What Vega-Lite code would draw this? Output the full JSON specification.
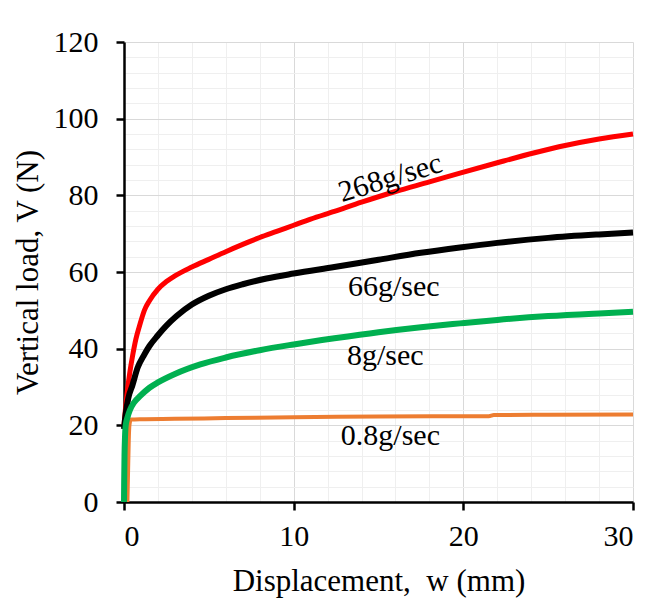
{
  "$schema": "https://vega.github.io/schema/vega-lite/v6.json",
  "autosize": "none",
  "width": 509,
  "height": 460,
  "padding": {"left": 124, "top": 42, "right": 35, "bottom": 104},
  "background": "white",
  "config": {
    "view": {"stroke": null},
    "font": "Liberation Serif"
  },
  "datasets": {
    "curves": [
      {"rate": "268g/sec", "w": 0, "V": 20},
      {"rate": "268g/sec", "w": 0.1, "V": 25},
      {"rate": "268g/sec", "w": 0.2, "V": 29},
      {"rate": "268g/sec", "w": 0.35, "V": 34},
      {"rate": "268g/sec", "w": 0.5, "V": 38},
      {"rate": "268g/sec", "w": 0.7, "V": 42.5},
      {"rate": "268g/sec", "w": 0.95, "V": 46.5},
      {"rate": "268g/sec", "w": 1.2, "V": 50},
      {"rate": "268g/sec", "w": 1.5, "V": 52.5},
      {"rate": "268g/sec", "w": 2, "V": 55.5},
      {"rate": "268g/sec", "w": 2.5, "V": 57.5},
      {"rate": "268g/sec", "w": 3, "V": 59},
      {"rate": "268g/sec", "w": 4, "V": 61.3},
      {"rate": "268g/sec", "w": 5, "V": 63.3},
      {"rate": "268g/sec", "w": 6, "V": 65.3},
      {"rate": "268g/sec", "w": 7, "V": 67.2},
      {"rate": "268g/sec", "w": 8, "V": 69},
      {"rate": "268g/sec", "w": 9, "V": 70.6},
      {"rate": "268g/sec", "w": 10, "V": 72.2},
      {"rate": "268g/sec", "w": 11, "V": 73.8},
      {"rate": "268g/sec", "w": 12.4, "V": 75.8},
      {"rate": "268g/sec", "w": 14, "V": 78.2},
      {"rate": "268g/sec", "w": 16, "V": 81},
      {"rate": "268g/sec", "w": 18, "V": 83.5},
      {"rate": "268g/sec", "w": 19.8, "V": 85.8},
      {"rate": "268g/sec", "w": 22, "V": 88.5},
      {"rate": "268g/sec", "w": 24.2, "V": 91.1},
      {"rate": "268g/sec", "w": 26, "V": 93},
      {"rate": "268g/sec", "w": 28, "V": 94.7},
      {"rate": "268g/sec", "w": 30, "V": 96},
      {"rate": "66g/sec", "w": 0, "V": 19},
      {"rate": "66g/sec", "w": 0.1, "V": 23},
      {"rate": "66g/sec", "w": 0.25, "V": 27},
      {"rate": "66g/sec", "w": 0.5, "V": 30.5},
      {"rate": "66g/sec", "w": 0.8, "V": 35},
      {"rate": "66g/sec", "w": 1.2, "V": 38.5},
      {"rate": "66g/sec", "w": 1.5, "V": 40.7},
      {"rate": "66g/sec", "w": 2, "V": 43.5},
      {"rate": "66g/sec", "w": 2.5, "V": 46},
      {"rate": "66g/sec", "w": 3.1, "V": 48.5},
      {"rate": "66g/sec", "w": 4, "V": 51.5},
      {"rate": "66g/sec", "w": 5, "V": 53.8},
      {"rate": "66g/sec", "w": 6, "V": 55.5},
      {"rate": "66g/sec", "w": 7, "V": 56.8},
      {"rate": "66g/sec", "w": 8.4, "V": 58.3},
      {"rate": "66g/sec", "w": 10, "V": 59.6},
      {"rate": "66g/sec", "w": 12.4, "V": 61.3},
      {"rate": "66g/sec", "w": 15, "V": 63.2},
      {"rate": "66g/sec", "w": 17.5, "V": 65},
      {"rate": "66g/sec", "w": 19.8, "V": 66.4},
      {"rate": "66g/sec", "w": 22, "V": 67.6},
      {"rate": "66g/sec", "w": 25, "V": 68.9},
      {"rate": "66g/sec", "w": 28, "V": 69.8},
      {"rate": "66g/sec", "w": 30, "V": 70.3},
      {"rate": "8g/sec", "w": 0, "V": 0},
      {"rate": "8g/sec", "w": 0.01, "V": 5},
      {"rate": "8g/sec", "w": 0.03, "V": 12},
      {"rate": "8g/sec", "w": 0.06, "V": 17},
      {"rate": "8g/sec", "w": 0.1, "V": 20},
      {"rate": "8g/sec", "w": 0.2, "V": 22},
      {"rate": "8g/sec", "w": 0.35, "V": 24},
      {"rate": "8g/sec", "w": 0.6, "V": 26},
      {"rate": "8g/sec", "w": 0.94, "V": 27.6},
      {"rate": "8g/sec", "w": 1.5, "V": 29.8},
      {"rate": "8g/sec", "w": 2, "V": 31.2},
      {"rate": "8g/sec", "w": 3, "V": 33.4},
      {"rate": "8g/sec", "w": 4.5, "V": 35.9},
      {"rate": "8g/sec", "w": 6, "V": 37.7},
      {"rate": "8g/sec", "w": 8, "V": 39.6},
      {"rate": "8g/sec", "w": 10, "V": 41.1},
      {"rate": "8g/sec", "w": 12.4, "V": 42.7},
      {"rate": "8g/sec", "w": 15, "V": 44.3},
      {"rate": "8g/sec", "w": 17.5, "V": 45.6},
      {"rate": "8g/sec", "w": 19.8, "V": 46.6},
      {"rate": "8g/sec", "w": 22, "V": 47.5},
      {"rate": "8g/sec", "w": 25, "V": 48.5},
      {"rate": "8g/sec", "w": 28, "V": 49.2},
      {"rate": "8g/sec", "w": 30, "V": 49.6},
      {"rate": "0.8g/sec", "w": 0.2, "V": 0},
      {"rate": "0.8g/sec", "w": 0.24, "V": 8},
      {"rate": "0.8g/sec", "w": 0.28, "V": 16},
      {"rate": "0.8g/sec", "w": 0.32, "V": 20},
      {"rate": "0.8g/sec", "w": 0.4, "V": 21.5},
      {"rate": "0.8g/sec", "w": 1, "V": 21.6},
      {"rate": "0.8g/sec", "w": 3, "V": 21.7},
      {"rate": "0.8g/sec", "w": 6, "V": 21.9},
      {"rate": "0.8g/sec", "w": 10, "V": 22.1},
      {"rate": "0.8g/sec", "w": 15, "V": 22.3},
      {"rate": "0.8g/sec", "w": 21.5, "V": 22.4},
      {"rate": "0.8g/sec", "w": 21.8, "V": 22.7},
      {"rate": "0.8g/sec", "w": 25, "V": 22.75},
      {"rate": "0.8g/sec", "w": 30, "V": 22.8}
    ],
    "labels": [
      {"text": "66g/sec", "w": 15.9, "V": 56.1},
      {"text": "8g/sec", "w": 15.4, "V": 38.1},
      {"text": "0.8g/sec", "w": 15.7, "V": 17.2}
    ],
    "labels_rot": [
      {"text": "268g/sec", "w": 15.7, "V": 84.5}
    ]
  },
  "encoding": {
    "x": {
      "field": "w", "type": "quantitative",
      "scale": {"domain": [0, 30], "nice": false},
      "axis": {
        "title": "Displacement,\u00a0 w (mm)",
        "titleFont": "Liberation Serif",
        "titleFontSize": 31,
        "titleFontWeight": "normal",
        "titleColor": "black",
        "labelFont": "Liberation Serif",
        "labelFontSize": 30,
        "labelColor": "black",
        "values": [0,2,4,6,8,10,12,14,16,18,20,22,24,26,28,30],
        "labelExpr": "datum.value % 10 === 0 ? datum.label : ''",
        "labelPadding": 11,
        "titlePadding": 15,
        "domainColor": "black",
        "domainWidth": 2.5,
        "tickColor": "black",
        "tickWidth": 2.5,
        "tickSize": 8,
        "grid": true,
        "gridColor": {"condition": {"test": "datum.value % 10 === 0", "value": "#d9d9d9"}, "value": "#efefef"},
        "gridWidth": 1,
        "tickOpacity": {"condition": {"test": "datum.value % 10 === 0", "value": 1}, "value": 0}
      }
    },
    "y": {
      "field": "V", "type": "quantitative",
      "scale": {"domain": [0, 120], "nice": false},
      "axis": {
        "title": "Vertical load, V (N)",
        "titleFont": "Liberation Serif",
        "titleFontSize": 31,
        "titleFontWeight": "normal",
        "titleColor": "black",
        "labelFont": "Liberation Serif",
        "labelFontSize": 30,
        "labelColor": "black",
        "values": [0,4,8,12,16,20,24,28,32,36,40,44,48,52,56,60,64,68,72,76,80,84,88,92,96,100,104,108,112,116,120],
        "labelExpr": "datum.value % 20 === 0 ? datum.label : ''",
        "labelPadding": 18,
        "titlePadding": 9,
        "domainColor": "black",
        "domainWidth": 2.5,
        "tickColor": "black",
        "tickWidth": 2.5,
        "tickSize": 8,
        "grid": true,
        "gridColor": {"condition": {"test": "datum.value % 20 === 0", "value": "#d9d9d9"}, "value": "#efefef"},
        "gridWidth": 1,
        "tickOpacity": {"condition": {"test": "datum.value % 20 === 0", "value": 1}, "value": 0}
      }
    }
  },
  "layer": [
    {
      "data": {"name": "curves"},
      "transform": [{"filter": "datum.rate === '0.8g/sec'"}],
      "mark": {"type": "line", "color": "#ed7d31", "strokeWidth": 4, "interpolate": "monotone"}
    },
    {
      "data": {"name": "curves"},
      "transform": [{"filter": "datum.rate === '268g/sec'"}],
      "mark": {"type": "line", "color": "#ff0000", "strokeWidth": 5, "interpolate": "monotone"}
    },
    {
      "data": {"name": "curves"},
      "transform": [{"filter": "datum.rate === '66g/sec'"}],
      "mark": {"type": "line", "color": "#000000", "strokeWidth": 6, "interpolate": "monotone"}
    },
    {
      "data": {"name": "curves"},
      "transform": [{"filter": "datum.rate === '8g/sec'"}],
      "mark": {"type": "line", "color": "#00b050", "strokeWidth": 6, "interpolate": "monotone"}
    },
    {
      "data": {"name": "labels"},
      "mark": {"type": "text", "font": "Liberation Serif", "fontSize": 30, "color": "black", "align": "center", "baseline": "middle"},
      "encoding": {"text": {"field": "text"}}
    },
    {
      "data": {"name": "labels_rot"},
      "mark": {"type": "text", "font": "Liberation Serif", "fontSize": 30, "color": "black", "align": "center", "baseline": "middle", "angle": -17},
      "encoding": {"text": {"field": "text"}}
    }
  ]
}
